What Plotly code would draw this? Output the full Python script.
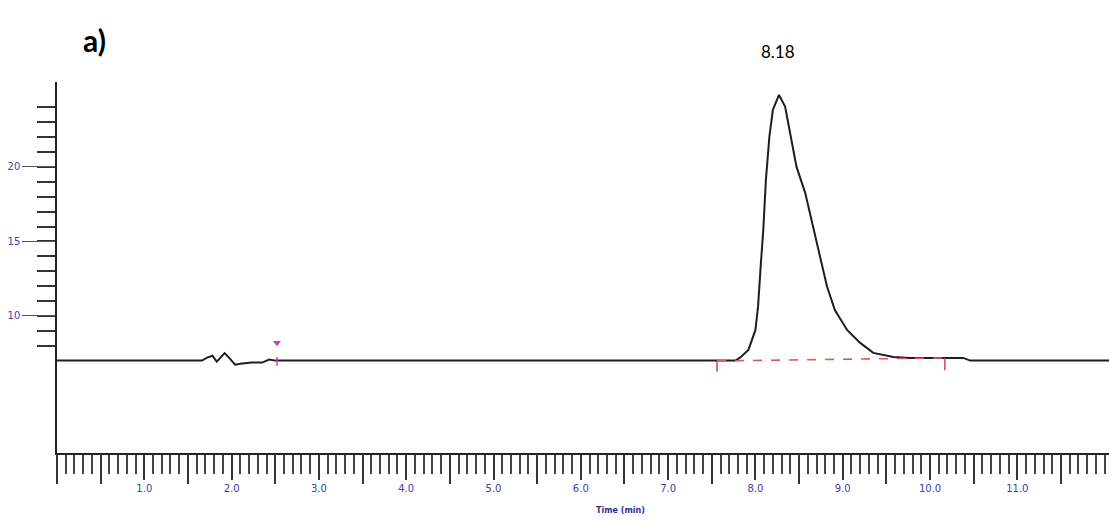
import plotly.graph_objects as go

# Chromatogram trace (time in min, detector signal)
time_min = [0.0, 1.66, 1.72, 1.78, 1.83, 1.88, 1.92, 1.97, 2.04, 2.12, 2.23, 2.35, 2.43, 2.50,
            7.77, 7.82, 7.92, 8.00, 8.03, 8.06, 8.09, 8.12, 8.16, 8.20, 8.27, 8.34, 8.39, 8.47,
            8.57, 8.64, 8.74, 8.82, 8.91, 9.05, 9.20, 9.35, 9.58, 9.77, 10.38, 10.46, 12.05]
signal = [7.0, 7.0, 7.2, 7.33, 6.93, 7.27, 7.5, 7.2, 6.73, 6.8, 6.87, 6.87, 7.07, 7.0,
          7.0, 7.18, 7.72, 9.06, 10.62, 13.31, 15.77, 19.13, 22.03, 23.83, 24.83, 24.05, 22.48, 20.02,
          18.26, 16.44, 13.98, 11.97, 10.40, 9.06, 8.19, 7.52, 7.25, 7.18, 7.18, 7.0, 7.0]

# Integration baseline (red dashed) and its end markers
integ_x = [7.56, 10.17]
integ_y = [6.98, 7.18]
integ_tick_bottom = [6.25, 6.35]

# Magenta event marker
event_x = 2.52
event_marker_y = 8.2
event_tick_y = [7.25, 6.65]

peak_label = "8.18"
panel_label = "a)"

x_range = [0.0, 12.05]
y_range = [0.8, 25.7]
x_label_vals = list(range(1, 12))
x_label_text = [f"{v:.1f}" for v in x_label_vals]
x_half_vals = [0.0] + [i + 0.5 for i in range(0, 12)]
y_label_vals = [10, 15, 20]
y_minor_vals = list(range(8, 25))

fig = go.Figure()

fig.add_trace(go.Scatter(x=time_min, y=signal, mode="lines",
                         line=dict(color="#1e1e1e", width=2),
                         hoverinfo="skip", showlegend=False))

fig.add_trace(go.Scatter(x=integ_x, y=integ_y, mode="lines",
                         line=dict(color="#e05a50", width=1.6, dash="dash"),
                         showlegend=False, hoverinfo="skip"))
for xv, yv, yb in zip(integ_x, integ_y, integ_tick_bottom):
    fig.add_trace(go.Scatter(x=[xv, xv], y=[yv, yb], mode="lines",
                             line=dict(color="#d04060", width=1.5),
                             showlegend=False, hoverinfo="skip"))

fig.add_trace(go.Scatter(x=[event_x, event_x], y=event_tick_y, mode="lines",
                         line=dict(color="#c040c0", width=1.5),
                         showlegend=False, hoverinfo="skip"))
fig.add_trace(go.Scatter(x=[event_x], y=[event_marker_y], mode="markers",
                         marker=dict(color="#c040c0", size=7, symbol="triangle-down"),
                         showlegend=False, hoverinfo="skip"))

# invisible trace for the secondary x-axis (half-unit long ticks)
fig.add_trace(go.Scatter(x=x_range, y=y_range, xaxis="x2", mode="markers",
                         marker=dict(opacity=0), showlegend=False, hoverinfo="skip"))

tick_font = dict(family="DejaVu Sans", size=10, color="#4040a8")

fig.update_layout(
    width=1109, height=520,
    margin=dict(l=57, r=0, t=82, b=67),
    paper_bgcolor="white", plot_bgcolor="white",
    xaxis=dict(range=x_range, showgrid=False, zeroline=False, automargin=False,
               showline=True, linecolor="#222", linewidth=1.5,
               tickmode="array", tickvals=x_label_vals, ticktext=x_label_text,
               ticks="outside", ticklen=25, tickwidth=2, tickcolor="#333",
               tickfont=tick_font,
               minor=dict(dtick=0.1, tick0=0, ticks="outside", ticklen=19,
                          tickwidth=2, tickcolor="#444", showgrid=False)),
    xaxis2=dict(range=x_range, overlaying="x", anchor="y", side="bottom",
                showgrid=False, zeroline=False, showline=False, automargin=False,
                tickmode="array", tickvals=x_half_vals, showticklabels=False,
                ticks="outside", ticklen=30, tickwidth=2, tickcolor="#333"),
    yaxis=dict(range=y_range, showgrid=False, zeroline=False, automargin=False,
               showline=True, linecolor="#222", linewidth=1.5,
               tickmode="array", tickvals=y_label_vals,
               ticks="outside", ticklen=33, tickwidth=1, tickcolor="#555",
               tickfont=tick_font,
               minor=dict(tickvals=y_minor_vals, ticks="outside", ticklen=18,
                          tickwidth=2, tickcolor="#333", showgrid=False)),
)

fig.add_annotation(text=panel_label, xref="paper", yref="paper", x=0.036, y=1.113,
                   xanchor="center", yanchor="middle", showarrow=False,
                   font=dict(family="Lato", size=30, color="black", weight="bold"))
fig.add_annotation(text=peak_label, xref="x", yref="paper", x=8.26, y=1.081,
                   xanchor="center", yanchor="middle", showarrow=False,
                   font=dict(family="Lato", size=17, color="black"))
fig.add_annotation(text="Time (min)", xref="paper", yref="paper", x=0.536, y=-0.156,
                   xanchor="center", yanchor="middle", showarrow=False,
                   font=dict(family="DejaVu Sans", size=8, color="#303090", weight="bold"))

fig.write_html("out.html", config={"displayModeBar": False},
               post_script="document.body.style.margin='0';document.body.style.overflow='hidden';")
